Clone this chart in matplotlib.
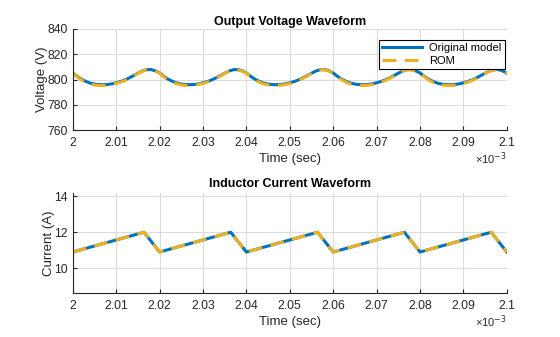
import numpy as np
import matplotlib.pyplot as plt

plt.rcParams['font.family'] = ['Liberation Sans', 'DejaVu Sans']

# time axis in ms (shown with a x10^-3 multiplier)
t = np.round(np.arange(2.0, 2.1005, 0.001), 3)

v_orig = [805.2, 802.5, 800.2, 798.5, 797.2, 796.4, 796.0, 795.9, 796.1, 796.6,
          797.4, 798.4, 799.7, 801.3, 803.1, 805.0, 806.7, 807.8, 807.9, 806.9,
          805.2, 802.5, 800.2, 798.5, 797.2, 796.4, 796.0, 795.9, 796.1, 796.6,
          797.4, 798.4, 799.7, 801.3, 803.1, 805.0, 806.7, 807.8, 807.9, 806.9,
          805.2, 802.5, 800.2, 798.5, 797.2, 796.4, 796.0, 795.9, 796.1, 796.6,
          797.4, 798.4, 799.7, 801.3, 803.1, 805.0, 806.7, 807.8, 807.9, 806.9,
          805.2, 802.5, 800.2, 798.5, 797.2, 796.4, 796.0, 795.9, 796.1, 796.6,
          797.4, 798.4, 799.7, 801.3, 803.1, 805.0, 806.7, 807.8, 807.9, 806.9,
          805.2, 802.5, 800.2, 798.5, 797.2, 796.4, 796.0, 795.9, 796.1, 796.6,
          797.4, 798.4, 799.7, 801.3, 803.1, 805.0, 806.7, 807.8, 807.9, 806.9,
          805.0]
v_rom = [805.0, 802.1, 799.6, 797.8, 796.5, 795.7, 795.3, 795.3, 795.5, 796.1,
         796.9, 797.9, 799.2, 800.9, 802.8, 804.8, 806.6, 807.7, 807.6, 806.6,
         805.0, 802.1, 799.6, 797.8, 796.5, 795.7, 795.3, 795.3, 795.5, 796.1,
         796.9, 797.9, 799.2, 800.9, 802.8, 804.8, 806.6, 807.7, 807.6, 806.6,
         805.0, 802.1, 799.6, 797.8, 796.5, 795.7, 795.3, 795.3, 795.5, 796.1,
         796.9, 797.9, 799.2, 800.9, 802.8, 804.8, 806.6, 807.7, 807.6, 806.6,
         805.0, 802.1, 799.6, 797.8, 796.5, 795.7, 795.3, 795.3, 795.5, 796.1,
         796.9, 797.9, 799.2, 800.9, 802.8, 804.8, 806.6, 807.7, 807.6, 806.6,
         805.0, 802.1, 799.6, 797.8, 796.5, 795.7, 795.3, 795.3, 795.5, 796.1,
         796.9, 797.9, 799.2, 800.9, 802.8, 804.8, 806.6, 807.7, 807.6, 806.6,
         804.8]

# inductor current: corner points of the triangle wave
t_i = [2.0, 2.0164, 2.020, 2.0364, 2.040, 2.0564, 2.060, 2.0764, 2.080, 2.0964, 2.100]
i_orig = [10.9, 12.0, 10.9, 12.0, 10.9, 12.0, 10.9, 12.0, 10.9, 12.0, 10.9]
i_rom = [10.9, 12.0, 10.9, 12.0, 10.9, 12.0, 10.9, 12.0, 10.9, 12.0, 10.9]

xticks = [2.0, 2.01, 2.02, 2.03, 2.04, 2.05, 2.06, 2.07, 2.08, 2.09, 2.1]

blue = '#0072BD'
yellow = '#EDB120'
dash = (0, (4.5, 2.8))

fig = plt.figure(figsize=(5.6, 3.37), dpi=100)
ax1 = fig.add_axes([0.130, 0.614, 0.775, 0.300])
ax2 = fig.add_axes([0.130, 0.1306, 0.775, 0.2976])


def style(ax):
    for s in ['top', 'right']:
        ax.spines[s].set_visible(False)
    for s in ['left', 'bottom']:
        ax.spines[s].set_color('#262626')
        ax.spines[s].set_linewidth(0.8)
    ax.grid(True, color='#dcdcdc', linewidth=0.8)
    ax.set_axisbelow(True)
    ax.tick_params(direction='in', length=3, labelsize=8.8, colors='#262626',
                   labelcolor='#262626', width=0.8)
    ax.tick_params(axis='x', pad=5)
    ax.set_xlim(2.0, 2.1)
    ax.set_xticks(xticks)
    ax.set_xticklabels(['%g' % x for x in xticks])
    ax.set_xlabel('Time (sec)', fontsize=9.5, labelpad=3, color='#262626')
    ax.text(1.0, -0.2, '×10$^{-3}$', transform=ax.transAxes, ha='right', va='top',
            fontsize=8, color='#262626')


ax1.plot(t, v_orig, color=blue, linewidth=2.2, label='Original model')
ax1.plot(t, v_rom, color=yellow, linewidth=2.2, linestyle=dash, label='ROM')
style(ax1)
ax1.set_ylim(760, 840)
ax1.set_yticks([760, 780, 800, 820, 840])
ax1.set_ylabel('Voltage (V)', fontsize=9.5, color='#262626')
ax1.yaxis.set_label_coords(-0.056, 0.5)
ax1.set_title('Output Voltage Waveform', fontsize=9, fontweight='bold', pad=3)
leg = ax1.legend(loc='upper right', bbox_to_anchor=(0.995, 0.891), borderaxespad=0,
                 fontsize=8, fancybox=False, framealpha=1, edgecolor='black',
                 handlelength=3.6, borderpad=0.3, labelspacing=0.2, handletextpad=0.6)
leg.get_frame().set_linewidth(0.8)

ax2.plot(t_i, i_orig, color=blue, linewidth=2.2)
ax2.plot(t_i, i_rom, color=yellow, linewidth=2.2, linestyle=dash)
style(ax2)
ax2.set_ylim(8.62, 14.2)
ax2.set_yticks([10, 12, 14])
ax2.set_ylabel('Current (A)', fontsize=9.5, color='#262626')
ax2.yaxis.set_label_coords(-0.042, 0.5)
ax2.set_title('Inductor Current Waveform', fontsize=9, fontweight='bold', pad=4)

fig.savefig('out.png', dpi=100)
